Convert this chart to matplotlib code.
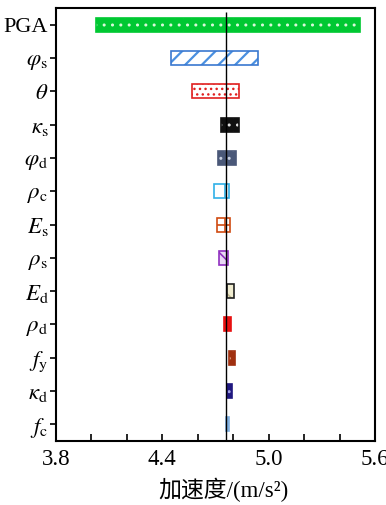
import matplotlib
matplotlib.use("Agg")
import matplotlib.pyplot as plt
import numpy as np

plt.rcParams['mathtext.fontset'] = 'stix'
plt.rcParams['font.family'] = ['Liberation Serif', 'Noto Sans CJK SC']

labels = [r'PGA', r'$\varphi_{\rm s}$', r'$\theta$', r'$\kappa_{\rm s}$', r'$\varphi_{\rm d}$',
          r'$\rho_{\rm c}$', r'$E_{\rm s}$', r'$\rho_{\rm s}$', r'$E_{\rm d}$', r'$\rho_{\rm d}$',
          r'$f_{\rm y}$', r'$\kappa_{\rm d}$', r'$f_{\rm c}$']
low = [4.027, 4.451, 4.566, 4.731, 4.714, 4.692, 4.707, 4.720, 4.765, 4.750, 4.778, 4.764, 4.758]
high = [5.517, 4.942, 4.831, 4.833, 4.814, 4.778, 4.784, 4.769, 4.803, 4.788, 4.810, 4.791, 4.778]
base = 4.76
xticks = [3.8, 4.0, 4.2, 4.4, 4.6, 4.8, 5.0, 5.2, 5.4, 5.6]
xticklabels = ['3.8', '', '', '4.4', '', '', '5.0', '', '', '5.6']

# style: (facecolor, edgecolor, hatch, hatchcolor, hatch linewidth)
styles = [
    ('#00c832', '#00c832', '..', '#d8f8d8', 1.0),
    ('white', '#3a78d0', '//', '#4a90e0', 1.6),
    ('white', '#e02020', '...', '#e02020', 1.0),
    ('#101010', '#101010', '..', '#e0e0e0', 1.0),
    ('#4a5878', '#4a5878', '..', '#c8d0e0', 1.0),
    ('white', '#30b0e8', '|', '#30b0e8', 1.2),
    ('white', '#d04a10', '+', '#d04a10', 1.2),
    ('#e8d8f4', '#9030c0', '\\\\', '#9030c0', 1.2),
    ('#f0ecd0', '#202020', '\\', '#c0b890', 1.2),
    ('#e81010', '#e81010', None, None, 1.0),
    ('#a03010', '#a03010', '..', '#f0c0a0', 1.0),
    ('#201880', '#201880', '..', '#a0a0e0', 1.0),
    ('#80b0e0', '#80b0e0', None, None, 1.0),
]

fig = plt.figure(figsize=(3.86, 5.05), dpi=100)
ax = fig.add_axes([0.145, 0.1267, 0.8265, 0.8573])

y = np.arange(len(labels))
h = 0.42
for i, (lo, hi) in enumerate(zip(low, high)):
    fc, ec, hatch, hc, hlw = styles[i]
    ax.barh(y[i], hi - lo, left=lo, height=h, color=fc, edgecolor='none', linewidth=0, zorder=2)
    if hatch:
        with plt.rc_context({'hatch.linewidth': hlw}):
            ax.barh(y[i], hi - lo, left=lo, height=h, color='none', edgecolor=hc, hatch=hatch,
                    linewidth=0, zorder=3)
    ax.barh(y[i], hi - lo, left=lo, height=h, color='none', edgecolor=ec, linewidth=1.2, zorder=4)

ax.vlines(base, -0.38, 12.5, color='black', linewidth=1.0, zorder=5)

ax.set_xlim(3.8, 5.6)
ax.set_ylim(12.5, -0.5)
ax.set_xticks(xticks)
ax.set_xticklabels(xticklabels, fontsize=16.5)
ax.set_yticks(y)
ax.set_yticklabels(labels, fontsize=16.5)
ax.get_yticklabels()[0].set_fontsize(16)
ax.tick_params(axis='x', direction='in', length=5, width=1.2, pad=6)
ax.tick_params(axis='y', direction='out', length=4, width=1.2, pad=1.5)
for s in ax.spines.values():
    s.set_linewidth(1.5)
ax.set_xlabel('加速度/(m/s²)', fontsize=16.5, labelpad=5)
ax.xaxis.set_label_coords(0.525, -0.085)

fig.savefig('out.png', dpi=100)
